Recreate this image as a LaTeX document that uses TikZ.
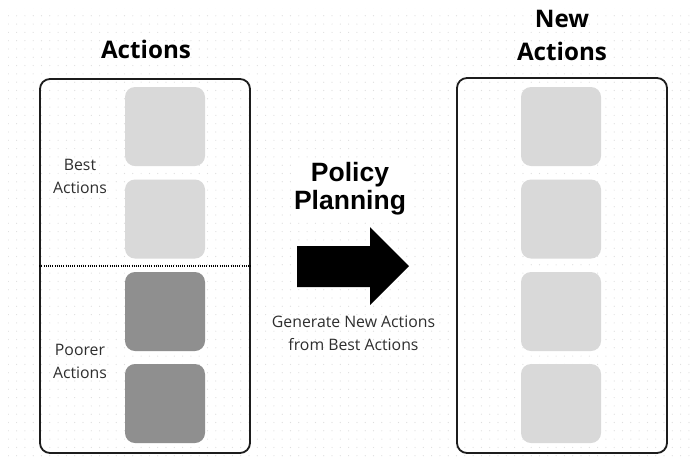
\documentclass[tikz,border=0pt]{standalone}
\usepackage{fontspec}
\setmainfont{Open Sans}
\newfontfamily\headfont{Liberation Sans}
\usetikzlibrary{patterns.meta}

\definecolor{tilelight}{HTML}{D9D9D9}
\definecolor{tiledark}{HTML}{8F8F8F}
\definecolor{framecol}{HTML}{1C1C1C}
\definecolor{dotcol}{HTML}{DEDEDE}

\begin{document}
\begin{tikzpicture}[x=1pt, y=-1pt,
  frame/.style={draw=framecol, line width=1.8pt, rounded corners=10pt,
    inner sep=0pt, minimum width=210pt},
  tile/.style={rounded corners=10pt, minimum width=80pt, minimum height=79pt,
    inner sep=0pt},
  goodtile/.style={tile, fill=tilelight},
  poortile/.style={tile, fill=tiledark},
  heading/.style={font=\fontsize{24.2}{33}\selectfont\bfseries, anchor=base,
    align=center, inner sep=0pt},
  note/.style={font=\fontsize{15.8}{23}\selectfont, text=black!82, anchor=base,
    align=center, inner sep=0pt},
  blockarrow/.style={fill=black},
]
  % page and dotted canvas
  \fill[white] (0,0) rectangle (695,464);
  \useasboundingbox (0,0) rectangle (695,464);
  \fill[pattern={Dots[distance=8.3pt, radius=0.6pt]}, pattern color=dotcol]
    (8,8) rectangle (690,462);

  % column headings (base anchor sits on the last line)
  \node[heading] (oldtitle) at (146,58) {Actions};
  \node[heading] (newtitle) at (562,60) {New\\Actions};

  % frames around the two action sets
  \node[frame, minimum height=374pt] (oldbox) at (145,266) {};
  \node[frame, minimum height=375pt] (newbox) at (562,265.5) {};

  % current actions: two best, two poorer
  \node[goodtile] (old1) at (165,126.5) {};
  \node[goodtile] (old2) at (165,219) {};
  \node[poortile] (old3) at (165,311.5) {};
  \node[poortile] (old4) at (165,403.5) {};

  % split between best and poorer actions
  \coordinate (cutL) at (oldbox.west |- 0,266);
  \coordinate (cutR) at (oldbox.east |- 0,266);
  \draw[black, line width=1.1pt, dash pattern=on 1pt off 1.2pt] (cutL) -- (cutR);

  \node[note] (best) at (80,193) {Best\\Actions};
  \node[note] (poor) at (80,378) {Poorer\\Actions};

  % generated actions
  \node[goodtile] (new1) at (561,126.5) {};
  \node[goodtile] (new2) at (561,219) {};
  \node[goodtile] (new3) at (561,311.5) {};
  \node[goodtile] (new4) at (561,403.5) {};

  % planning step
  \node[font=\headfont\fontsize{26.5}{28}\selectfont\bfseries, anchor=base,
    align=center, fill=white, inner sep=3pt] (policy) at (350,209) {Policy\\Planning};
  \fill[blockarrow] (297,246) -- (370,246) -- (370,227) -- (409,266)
    -- (370,305) -- (370,287) -- (297,287) -- cycle;
  \node[note] (gen) at (353.5,350) {Generate New Actions\\from Best Actions};
\end{tikzpicture}
\end{document}
